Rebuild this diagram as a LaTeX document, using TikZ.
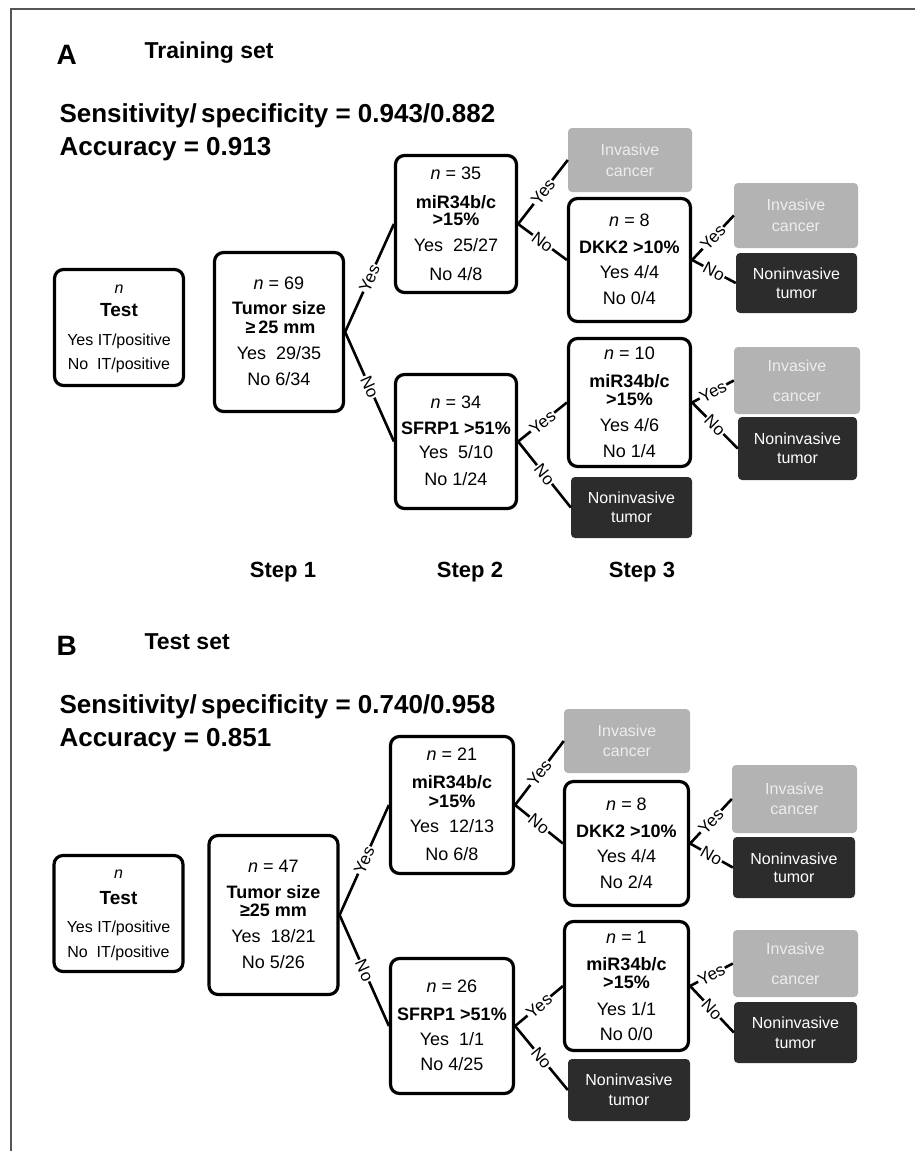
\documentclass[tikz,border=0pt]{standalone}
\usepackage{fontspec}
\setmainfont{Liberation Sans}
\newcommand{\setpx}[2]{\fontsize{#1}{#2}\selectfont}
\definecolor{invfill}{HTML}{B3B3B3}
\definecolor{invtext}{HTML}{EDEDED}
\definecolor{nonfill}{HTML}{2C2C2C}
\definecolor{framegrey}{HTML}{555555}
\tikzset{
  testbox/.style={draw, line width=3.2pt, rounded corners=9pt, fill=white, align=center, inner sep=0pt, text depth=-4pt, font=\setpx{16}{18}},
  splitbox/.style={draw, line width=3.2pt, rounded corners=9pt, fill=white, align=center, inner sep=0pt, text depth=1pt, font=\setpx{18}{18}},
  invleaf/.style={fill=invfill, rounded corners=4pt, text=invtext, align=center, inner sep=0pt, text depth=0pt, font=\setpx{16}{21}},
  nonleaf/.style={invleaf, fill=nonfill, text=white},
  branch/.style={line width=2.6pt},
  brlab/.style={midway, sloped, fill=white, inner sep=1pt, font=\setpx{17}{17}},
  steplab/.style={anchor=base, font=\bfseries\setpx{22}{22}},
  statline/.style={anchor=base west, font=\bfseries\setpx{26}{26}},
  panelhead/.style={anchor=base west, font=\bfseries\setpx{23}{23}},
  panelletter/.style={anchor=base west, font=\bfseries\setpx{28}{28}},
}

\begin{document}
\begin{tikzpicture}[x=1pt, y=-1pt]
  \useasboundingbox (0,0) rectangle (915,1151);
  \draw [framegrey, line width=1.3pt] (11,1151) -- (11,9) -- (915,9);

  % panel A
  \node [panelletter] (letA) at (53,64) {A};
  \node [panelhead] (headA) at (141,58) {Training set};
  \node [statline] (sensA) at (56,122) {Sensitivity/\,specificity = 0.943/0.882};
  \node [statline] (accA) at (56,155) {Accuracy = 0.913};

  \node [testbox, minimum width=129pt, minimum height=116pt] (testA) at (119,327.5) {\textit{n}\\[5pt]{\bfseries\setpx{19}{18}Test}\\[11pt]Yes IT/positive\\[6pt]No\ \ IT/positive};
  \node [splitbox, minimum width=129pt, minimum height=159pt] (tumA) at (279,332) {\textit{n} = 69\\[7pt]\textbf{Tumor size}\\[1pt]\textbf{\,≥\,25 mm}\\[8pt]Yes\ \ 29/35\\[8pt]No 6/34};
  \node [splitbox, minimum width=121pt, minimum height=137pt] (mirA) at (456,224) {\textit{n} = 35\\[11pt]\textbf{miR34b/c}\\[-1pt]\textbf{>15\%}\\[8pt]Yes\ \ 25/27\\[11pt]No 4/8};
  \node [splitbox, minimum width=121pt, minimum height=134pt] (sfrA) at (456,441.5) {\textit{n} = 34\\[8pt]\textbf{SFRP1 >51\%}\\[6pt]Yes\ \ 5/10\\[9pt]No 1/24};
  \node [splitbox, minimum width=122pt, minimum height=123pt] (dkkA) at (629.5,260) {\textit{n} = 8\\[9pt]\textbf{DKK2 >10\%}\\[7pt]Yes 4/4\\[8pt]No 0/4};
  \node [splitbox, minimum width=122pt, minimum height=128pt] (mirA3) at (629.5,402.5) {\textit{n} = 10\\[10pt]\textbf{miR34b/c}\\[0pt]\textbf{>15\%}\\[8pt]Yes 4/6\\[8pt]No 1/4};
  \node [invleaf, minimum width=124pt, minimum height=64pt] (invA1) at (630,160) {Invasive\\cancer};
  \node [invleaf, minimum width=124pt, minimum height=65pt] (invA2) at (796,215.5) {Invasive\\cancer};
  \node [nonleaf, minimum width=121pt, minimum height=60pt] (nonA2) at (796.5,283) {Noninvasive\\[-2pt]tumor};
  \node [invleaf, minimum width=126pt, minimum height=67pt] (invA3) at (797,380.5) {Invasive\\[9pt]cancer};
  \node [nonleaf, minimum width=119pt, minimum height=63pt] (nonA3) at (797.5,448.5) {Noninvasive\\[-2pt]tumor};
  \node [nonleaf, minimum width=121pt, minimum height=61pt] (nonA4) at (631.5,507.5) {Noninvasive\\[-2pt]tumor};

  \draw [branch] (tumA.east) -- node [brlab] {Yes} (mirA.west);
  \draw [branch] (tumA.east) -- node [brlab] {No} (sfrA.west);
  \draw [branch] (mirA.east) -- node [brlab] {Yes} (invA1.west);
  \draw [branch] (mirA.east) -- node [brlab] {No} (dkkA.west);
  \draw [branch] (dkkA.east) -- node [brlab] {Yes} (invA2.west);
  \draw [branch] (dkkA.east) -- node [brlab] {No} (nonA2.west);
  \draw [branch] (sfrA.east) -- node [brlab] {Yes} (mirA3.west);
  \draw [branch] (sfrA.east) -- node [brlab] {No} (nonA4.west);
  \draw [branch] (mirA3.east) -- node [brlab] {Yes} (invA3.west);
  \draw [branch] (mirA3.east) -- node [brlab] {No} (nonA3.west);

  \node [steplab] (step1) at (283,577) {Step 1};
  \node [steplab] (step2) at (470,577) {Step 2};
  \node [steplab] (step3) at (642,577) {Step 3};

  % panel B
  \node [panelletter] (letB) at (53,655) {B};
  \node [panelhead] (headB) at (141,649) {Test set};
  \node [statline] (sensB) at (56,713) {Sensitivity/\,specificity = 0.740/0.958};
  \node [statline] (accB) at (56,746) {Accuracy = 0.851};

  \node [testbox, minimum width=129pt, minimum height=116pt] (testB) at (118.5,913.5) {\textit{n}\\[8pt]{\bfseries\setpx{19}{18}Test}\\[10pt]Yes IT/positive\\[7pt]No\ \ IT/positive};
  \node [splitbox, minimum width=129pt, minimum height=159pt] (tumB) at (273.5,915) {\textit{n} = 47\\[8pt]\textbf{Tumor size}\\[0pt]\textbf{≥25 mm}\\[8pt]Yes\ \ 18/21\\[8pt]No 5/26};
  \node [splitbox, minimum width=123pt, minimum height=137pt] (mirB) at (452,805) {\textit{n} = 21\\[10pt]\textbf{miR34b/c}\\[1pt]\textbf{>15\%}\\[7pt]Yes\ \ 12/13\\[10pt]No 6/8};
  \node [splitbox, minimum width=123pt, minimum height=135pt] (sfrB) at (452,1026) {\textit{n} = 26\\[10pt]\textbf{SFRP1 >51\%}\\[7pt]Yes\ \ 1/1\\[7pt]No 4/25};
  \node [splitbox, minimum width=124pt, minimum height=124pt] (dkkB) at (626.5,843.5) {\textit{n} = 8\\[9pt]\textbf{DKK2 >10\%}\\[7pt]Yes 4/4\\[8pt]No 2/4};
  \node [splitbox, minimum width=124pt, minimum height=129pt] (mirB3) at (626.5,986) {\textit{n} = 1\\[9pt]\textbf{miR34b/c}\\[0pt]\textbf{>15\%}\\[9pt]Yes 1/1\\[7pt]No 0/0};
  \node [invleaf, minimum width=126pt, minimum height=64pt] (invB1) at (627,741) {Invasive\\[-1pt]cancer};
  \node [invleaf, minimum width=125pt, minimum height=68pt] (invB2) at (794.5,799) {Invasive\\[-1pt]cancer};
  \node [nonleaf, minimum width=122pt, minimum height=61pt] (nonB2) at (794,867.5) {Noninvasive\\[-3pt]tumor};
  \node [invleaf, minimum width=125pt, minimum height=67pt] (invB3) at (795.5,963.5) {Invasive\\[9pt]cancer};
  \node [nonleaf, minimum width=123pt, minimum height=61pt] (nonB3) at (795.5,1032.5) {Noninvasive\\[-1pt]tumor};
  \node [nonleaf, minimum width=122pt, minimum height=62pt] (nonB4) at (629,1090) {Noninvasive\\[-1pt]tumor};

  \draw [branch] (tumB.east) -- node [brlab] {Yes} (mirB.west);
  \draw [branch] (tumB.east) -- node [brlab] {No} (sfrB.west);
  \draw [branch] (mirB.east) -- node [brlab] {Yes} (invB1.west);
  \draw [branch] (mirB.east) -- node [brlab] {No} (dkkB.west);
  \draw [branch] (dkkB.east) -- node [brlab] {Yes} (invB2.west);
  \draw [branch] (dkkB.east) -- node [brlab] {No} (nonB2.west);
  \draw [branch] (sfrB.east) -- node [brlab] {Yes} (mirB3.west);
  \draw [branch] (sfrB.east) -- node [brlab] {No} (nonB4.west);
  \draw [branch] (mirB3.east) -- node [brlab] {Yes} (invB3.west);
  \draw [branch] (mirB3.east) -- node [brlab] {No} (nonB3.west);
\end{tikzpicture}
\end{document}
